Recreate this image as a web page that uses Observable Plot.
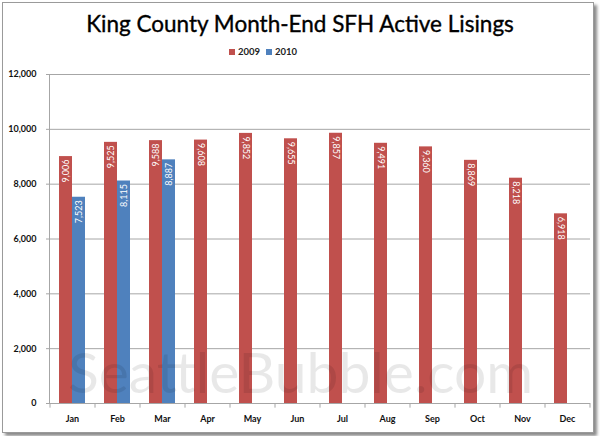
<!DOCTYPE html>
<html><head><meta charset="utf-8">
<script src="https://cdn.jsdelivr.net/npm/d3@7"></script>
<script src="https://cdn.jsdelivr.net/npm/@observablehq/plot@0.6"></script>
<style>
html,body{margin:0;padding:0;background:#fff;}
#wrap{position:relative;width:600px;height:436px;overflow:hidden;font-family:Lato,"Open Sans",sans-serif;}
#frame{position:absolute;left:2px;top:2px;width:590px;height:429px;border:1px solid #9a9a9a;box-shadow:3px 3px 3px #8a8a8a;background:#fff;}
#title{position:absolute;left:0;top:10px;width:600px;text-align:center;font-size:22.5px;color:#000;-webkit-text-stroke:0.35px #000;}
#legend{position:absolute;left:223px;top:46px;font-size:9.5px;font-weight:bold;color:#222;white-space:nowrap;}
#legend span.sw{display:inline-block;width:6px;height:6px;margin:0 3px 0 6px;vertical-align:0px;}
#plot{position:absolute;left:0;top:0;}
#wm{position:absolute;left:68px;top:337px;font-size:57px;color:rgba(0,0,0,0.09);pointer-events:none;white-space:nowrap;}
</style></head>
<body>
<div id="wrap">
  <div id="frame"></div>
  <div id="plot"></div>
  <div id="title"></div>
  <div id="legend"></div>
  <div id="wm"></div>
</div>
<script>
const months = ["Jan","Feb","Mar","Apr","May","Jun","Jul","Aug","Sep","Oct","Nov","Dec"];
const values2009 = [9006, 9525, 9588, 9608, 9852, 9655, 9857, 9491, 9360, 8869, 8218, 6918];
const values2010 = [7523, 8115, 8887];
const series = ["2009", "2010"];
const colors = ["#C0504D", "#4F81BD"];
const yTicks = [0, 2000, 4000, 6000, 8000, 10000, 12000];
const titleText = "King County Month-End SFH Active Lisings";
const watermark = "SeattleBubble.com";

const rows = [];
values2009.forEach((v, i) => rows.push({month: months[i], series: "2009", value: v}));
values2010.forEach((v, i) => rows.push({month: months[i], series: "2010", value: v}));
const hasBoth = new Set(values2010.map((v, i) => months[i]));
const r09 = rows.filter(d => d.series === "2009");
const r10 = rows.filter(d => d.series === "2010");
const fmt = d3.format(",");
const half = 13;

document.getElementById("title").textContent = titleText;
document.getElementById("wm").textContent = watermark;
document.getElementById("legend").innerHTML = series.map((s, i) =>
  `<span class="sw" style="background:${colors[i]}"></span>${s}`).join("");

const chart = Plot.plot({
  width: 600,
  height: 436,
  marginTop: 74,
  marginBottom: 33,
  marginLeft: 49,
  marginRight: 10,
  style: {background: "transparent", fontFamily: "Lato, 'Open Sans', sans-serif"},
  x: {domain: months, paddingInner: 0.42, paddingOuter: 0.21, axis: null},
  y: {domain: [0, 12000], axis: null},
  marks: [
    Plot.ruleY(yTicks, {y: d => d, stroke: "#a6a6a6", insetLeft: -3}),
    Plot.frame({anchor: "left", stroke: "#a6a6a6"}),
    Plot.ruleX(months, {x: d => d, y1: 0, y2: -170, dx: -22.5, stroke: "#a6a6a6"}),
    Plot.ruleX(months.slice(-1), {x: d => d, y1: 0, y2: -170, dx: 22.5, stroke: "#a6a6a6"}),
    Plot.barY(r09, {x: "month", y: "value", fill: colors[0], insetRight: half}),
    Plot.barY(r10, {x: "month", y: "value", fill: colors[1], insetLeft: half}),
    Plot.text(r09.filter(d => hasBoth.has(d.month)), {x: "month", y: "value", text: d => fmt(d.value), rotate: -90, textAnchor: "end", dx: -6.5, dy: 3, fill: "white", fontSize: 9}),
    Plot.text(r09.filter(d => !hasBoth.has(d.month)), {x: "month", y: "value", text: d => fmt(d.value), rotate: 90, textAnchor: "start", dx: -6.5, dy: 3, fill: "white", fontSize: 9}),
    Plot.text(r10, {x: "month", y: "value", text: d => fmt(d.value), rotate: -90, textAnchor: "end", dx: 6.5, dy: 3, fill: "white", fontSize: 9}),
    Plot.axisX({label: null, tickSize: 0, tickPadding: 12, fontWeight: "bold", fontSize: 9, fill: "#111"}),
    Plot.axisY({label: null, ticks: yTicks, tickSize: 0, tickPadding: 13, tickFormat: fmt, fontWeight: "bold", fontSize: 9, fill: "#111"})
  ]
});
document.getElementById("plot").appendChild(chart);
</script>
</body></html>
